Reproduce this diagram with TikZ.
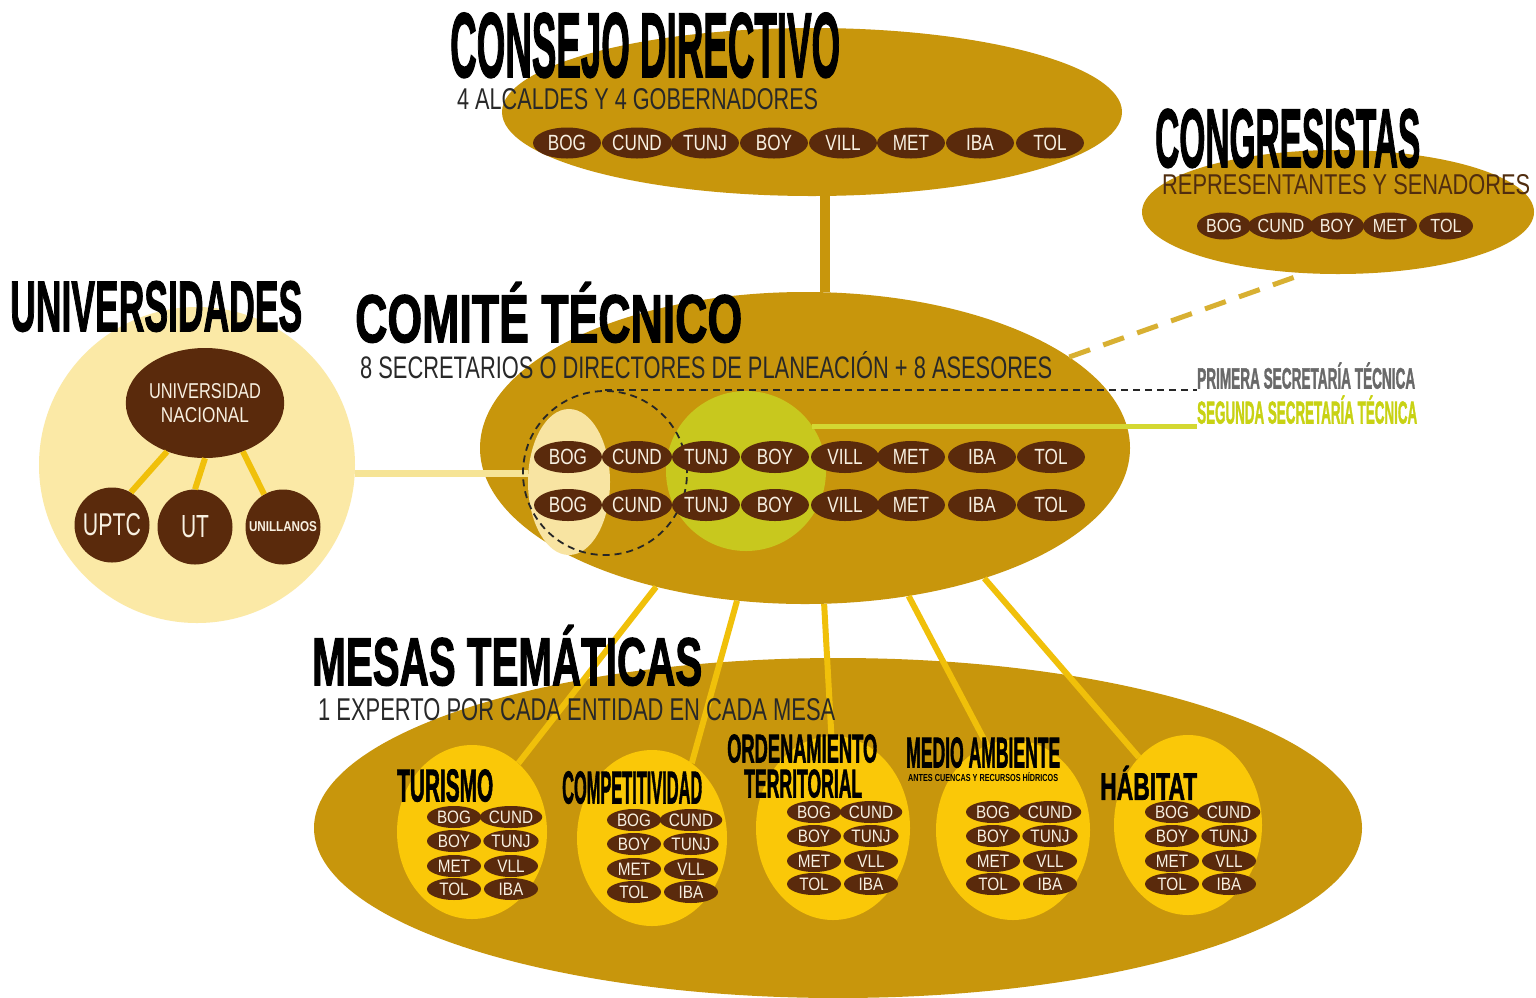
\documentclass[tikz,border=0pt]{standalone}
\usepackage{fontspec}
\setmainfont{Liberation Sans}
\newfontfamily\heavy{Liberation Sans}[FakeBold=2]
\usetikzlibrary{shapes.geometric}
\pgfdeclarelayer{bg}\pgfdeclarelayer{lines}
\pgfsetlayers{bg,lines,main}
\definecolor{gold}{RGB}{200,150,12}
\definecolor{chip}{RGB}{90,42,12}
\definecolor{chiptxt}{RGB}{248,240,225}
\definecolor{cream}{RGB}{251,233,166}
\definecolor{creamb}{RGB}{248,228,162}
\definecolor{lime}{RGB}{200,200,30}
\definecolor{limeline}{RGB}{212,216,50}
\definecolor{mesay}{RGB}{250,200,8}
\definecolor{conn}{RGB}{240,192,10}
\definecolor{uconn}{RGB}{246,228,150}
\definecolor{dashg}{RGB}{216,176,50}
\definecolor{darktxt}{RGB}{40,40,40}
\definecolor{browntxt}{RGB}{80,45,15}
\definecolor{greytxt}{RGB}{105,105,105}
\definecolor{limetxt}{RGB}{200,210,20}
\newcommand\fitt[3]{\resizebox{#1pt}{#2pt}{#3}}
\newcommand\cx[1]{\scalebox{0.78}[1]{#1}}
\newcommand\cy[1]{\scalebox{0.85}[1]{#1}}
\tikzset{
  big/.style={ellipse, fill=gold, inner sep=0},
  chipA/.style={ellipse, fill=chip, text=chiptxt, inner sep=0, minimum width=68, minimum height=31, font=\fontsize{22}{22}\selectfont},
  chipB/.style={ellipse, fill=chip, text=chiptxt, inner sep=0, minimum width=54, minimum height=27, font=\fontsize{19}{19}\selectfont},
  chipC/.style={ellipse, fill=chip, text=chiptxt, inner sep=0, minimum width=54, minimum height=22, font=\fontsize{18}{18}\selectfont},
  ttl/.style={anchor=south west, inner sep=0},
  mesa/.style={ellipse, fill=mesay, inner sep=0},
  uni/.style={circle, fill=chip, text=chiptxt, inner sep=0, minimum size=75},
  yconn/.style={conn, line width=6},
  bdash/.style={black!85, line width=1.8, dash pattern=on 7 off 5},
}
\begin{document}
\begin{tikzpicture}[x=1pt,y=-1pt]
\useasboundingbox (0,0) rectangle (1536,997);
\clip (0,0) rectangle (1536,997);
% ---------- big ellipses (background layer)
\begin{pgfonlayer}{bg}
\fill[white] (0,0) rectangle (1536,997);
\node[big, minimum width=620, minimum height=168] (consejo) at (812,112) {};
\node[big, minimum width=392, minimum height=124] (congr) at (1338,212) {};
\node[big, minimum width=650, minimum height=312] (comite) at (805,448) {};
\node[big, minimum width=1048, minimum height=340] (mesas) at (838,828) {};
\end{pgfonlayer}
% ---------- universidades
\node[circle, fill=cream, minimum size=316, inner sep=0] (univ) at (197,465) {};
\node[ttl] (tuniv) at (10,332) {\fitt{292}{50}{\heavy\bfseries UNIVERSIDADES}};
\node[ellipse, fill=chip, text=chiptxt, minimum width=136, minimum height=110, inner sep=0, align=center, font=\fontsize{15}{24}\selectfont] (un) at (205,403) {\fitt{112}{15}{UNIVERSIDAD}\\\fitt{88}{15}{NACIONAL}};
\node[uni] (uptc) at (112,525) {\fitt{58}{22}{UPTC}};
\node[uni] (ut) at (195,527) {\fitt{28}{22}{UT}};
\node[uni] (unl) at (283,527) {\fitt{68}{10}{\bfseries UNILLANOS}};
\draw[yconn] (un.-128) -- (uptc.60);
\draw[yconn] (un.-90) -- (ut.north);
\draw[yconn] (un.-52) -- (unl.120);
% ---------- consejo directivo
\node[ttl] (tcons) at (450,78) {\fitt{390}{64}{\heavy\bfseries CONSEJO DIRECTIVO}};
\node[ttl, text=darktxt] (scons) at (457,110) {\fitt{361}{21}{4 ALCALDES Y 4 GOBERNADORES}};
\foreach \x/\t [count=\i] in {567/BOG,637/CUND,705/TUNJ,774/BOY,843/VILL,911/MET,980/IBA,1050/TOL}
  \node[chipA] (cd\i) at (\x,143) {\cx{\t}};
% ---------- congresistas
\node[ttl] (tcong) at (1155,168) {\fitt{265}{58}{\heavy\bfseries CONGRESISTAS}};
\node[ttl, text=browntxt] (scong) at (1162,195) {\fitt{368}{20}{REPRESENTANTES Y SENADORES}};
\foreach \x/\t [count=\i] in {1224/BOG,1281/CUND,1337/BOY,1390/MET,1446/TOL}
  \node[chipB] (cg\i) at (\x,226) {\cy{\t}};
% ---------- comite tecnico
\node[ttl] (tcom) at (355,343) {\fitt{387}{60}{\heavy\bfseries COMITÉ TÉCNICO}};
\node[ttl, text=darktxt] (scom) at (360,379) {\fitt{692}{27}{8 SECRETARIOS O DIRECTORES DE PLANEACIÓN + 8 ASESORES}};
\node[ellipse, fill=creamb, minimum width=82, minimum height=146, inner sep=0] (cream) at (569,482) {};
\node[circle, fill=lime, minimum size=160, inner sep=0] (lime) at (746,471) {};
\node[circle, draw, bdash, minimum size=164, inner sep=0] (dcirc) at (605,473) {};
\foreach \x/\t [count=\i] in {568/BOG,637/CUND,706/TUNJ,775/BOY,845/VILL,911/MET,982/IBA,1051/TOL}{
  \node[chipA, minimum height=32] (ca\i) at (\x,457) {\cx{\t}};
  \node[chipA, minimum height=32] (cb\i) at (\x,505) {\cx{\t}};
}
\node[ttl, text=greytxt] (prim) at (1197,389) {\fitt{218}{26}{\heavy\bfseries PRIMERA SECRETARÍA TÉCNICA}};
\node[ttl, text=limetxt] (segu) at (1197,424) {\fitt{220}{28}{\heavy\bfseries SEGUNDA SECRETARÍA TÉCNICA}};
\draw[bdash] (dcirc.north) -- (dcirc.north -| prim.south west);
\draw[limeline, line width=5] (lime.34) -- (lime.34 -| segu.south west);
% ---------- mesas tematicas
\node[ttl] (tmes) at (312,686) {\fitt{390}{60}{\heavy\bfseries MESAS TEMÁTICAS}};
\node[ttl, text=darktxt] (smes) at (318,721) {\fitt{517}{22}{1 EXPERTO POR CADA ENTIDAD EN CADA MESA}};
\node[mesa, minimum width=150, minimum height=174] (tur) at (472,832) {};
\node[mesa, minimum width=150, minimum height=176] (comp) at (652,838) {};
\node[mesa, minimum width=154, minimum height=184] (ord) at (833,828) {};
\node[mesa, minimum width=154, minimum height=180] (med) at (1013,830) {};
\node[mesa, minimum width=148, minimum height=180] (hab) at (1188,825) {};
\node[ttl] (ttur) at (397,802) {\fitt{96}{32}{\heavy\bfseries TURISMO}};
\node[ttl] (tcomp) at (562,804) {\fitt{140}{32}{\heavy\bfseries COMPETITIVIDAD}};
\node[ttl] (tord) at (727,763) {\fitt{150}{28}{\heavy\bfseries ORDENAMIENTO}};
\node[ttl] (tter) at (744,798) {\fitt{118}{28}{\heavy\bfseries TERRITORIAL}};
\node[ttl] (tmed) at (906,768) {\fitt{154}{30}{\heavy\bfseries MEDIO AMBIENTE}};
\node[ttl] (tmed2) at (908,782) {\fitt{150}{9}{\bfseries ANTES CUENCAS Y RECURSOS HÍDRICOS}};
\node[ttl] (thab) at (1100,800) {\fitt{97}{34}{\heavy\bfseries HÁBITAT}};
\foreach \n/\x/\y in {tu/454/817, co/634/820, or/814/812, me/993/812, ha/1172/812}
  \foreach \t/\dx/\dy [count=\k] in {BOG/0/0,CUND/57/0,BOY/0/24,TUNJ/57/24,MET/0/49,VLL/57/49,TOL/0/72,IBA/57/72}
    \node[chipC] (\n\k) at (\x+\dx,\y+\dy) {\cy{\t}};
% ---------- connectors
\begin{pgfonlayer}{lines}
\draw[gold, line width=10] ([xshift=13]consejo.south) -- ([xshift=13]consejo.south |- comite.north);
\draw[dashg, line width=5, dash pattern=on 22 off 14] (comite.19) -- (congr.-118);
\draw[uconn, line width=7] (univ.-3) -- (univ.-3 -| cream.west);
\draw[yconn] (comite.-137) -- (tur.56);
\draw[yconn] (comite.-114) -- (comp.62);
\draw[yconn] (comite.-83) -- (ord.91);
\draw[yconn] (comite.-55) -- (med.107);
\draw[yconn] (comite.-36.5) -- (hab.126);
\end{pgfonlayer}
\end{tikzpicture}
\end{document}
